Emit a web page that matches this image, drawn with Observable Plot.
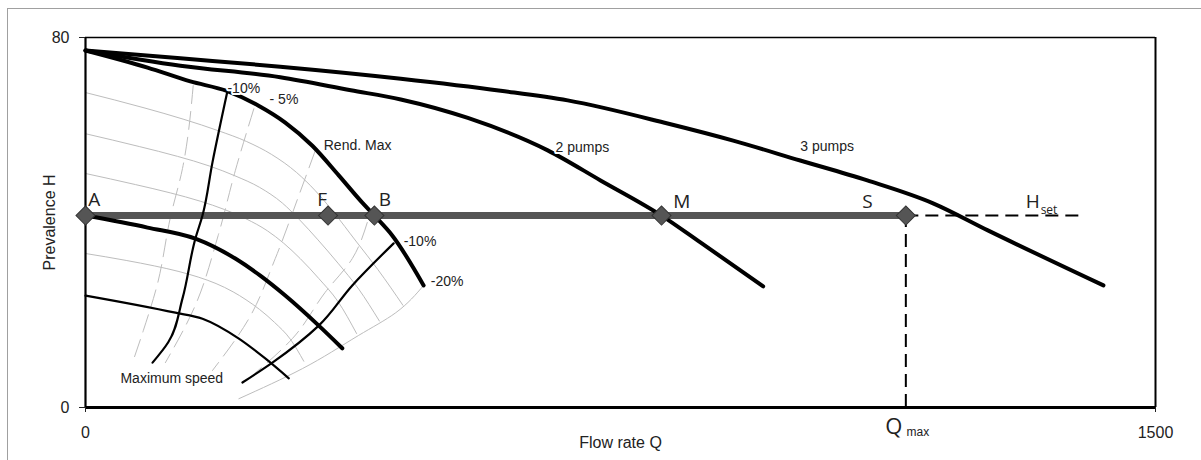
<!DOCTYPE html>
<html>
<head>
<meta charset="utf-8">
<script src="https://cdn.jsdelivr.net/npm/d3@7"></script>
<script src="https://cdn.jsdelivr.net/npm/@observablehq/plot@0.6"></script>
<style>
  html, body { margin: 0; padding: 0; background: #fff; }
  #wrap { position: relative; width: 1201px; height: 460px; overflow: hidden; }
  #frame { position: absolute; left: 7px; top: 8px; width: 1300px; height: 500px;
           border-left: 1px solid #a0a0a0; border-top: 1px solid #a0a0a0; pointer-events: none; z-index: 2; }
  #chart { position: absolute; left: 0; top: 0; }
</style>
</head>
<body>
<div id="wrap"><div id="frame"></div><div id="chart"></div></div>
<script>
// ---- axis ticks / reference values ----
const qTicks = [0, 1500];
const hTicks = [0, 80];
const hSet = 41.5;
const qMax = 1150;
const qSetEnd = 1400;

// ---- pump curves (Q, H) ----
const rendMaxQ = [0, 87, 147, 199, 242, 280, 318, 355, 388, 405, 430, 474];
const rendMaxH = [77.2, 73.5, 70.5, 68.4, 65.3, 61.6, 56.6, 50.2, 44.3, 41.5, 37.2, 26.4];

const twoPumpsQ = [0, 133, 273, 372, 442, 536, 648, 722, 807.5, 862, 950];
const twoPumpsH = [77.2, 73.9, 71.4, 68.6, 66.6, 62.6, 55.6, 49.1, 41.5, 35.7, 26.2];

const threePumpsQ = [0, 133, 273, 442, 582, 676, 816, 908, 1002, 1096, 1189, 1265, 1427];
const threePumpsH = [77.2, 75.5, 73.7, 71.1, 68.5, 66.4, 61.4, 57.7, 53.4, 49.1, 44.1, 38.3, 26.4];

const reducedQ = [0, 87, 154, 210, 245, 280, 327, 360];
const reducedH = [41.5, 38.9, 36.5, 32.2, 28.5, 24.2, 17.7, 12.8];

const lowQ = [0, 126, 164, 215, 252, 285];
const lowH = [24.2, 20.5, 19.2, 14.9, 10.6, 6.3];

// ---- efficiency lines (black) ----
const effLeftQ = [199, 178, 164, 154, 136, 116, 94];
const effLeftH = [68.4, 53.0, 41.5, 36.5, 23.6, 14.1, 9.7];
const effRightQ = [432, 374, 327, 262, 220];
const effRightH = [35.5, 26.4, 17.7, 9.7, 5.4];

// ---- grey grid: speed arcs, boundary, dashed iso-efficiency ----
const boundaryQ = [474, 435, 383, 304, 215];
const boundaryH = [26.4, 20.5, 15.6, 8.4, 1.9];

const arc1Q = [0, 82, 138, 187, 226, 261, 296, 322, 348, 379, 410, 445];
const arc1H = [68.1, 64.8, 62.3, 59.8, 57.5, 54.7, 50.8, 46.9, 42.2, 36.0, 29.8, 22.1];
const arc2Q = [0, 76, 129, 174, 211, 244, 276, 300, 325, 354, 383, 412];
const arc2H = [59.2, 56.4, 54.3, 52.2, 50.0, 47.6, 44.2, 40.6, 36.4, 31.2, 25.6, 18.7];
const arc3Q = [0, 70, 119, 161, 195, 225, 255, 278, 301, 327, 354, 380];
const arc3H = [50.6, 48.2, 46.4, 44.6, 42.8, 40.8, 38.2, 35.5, 32.2, 27.9, 22.9, 16.0];
const arc4Q = [0, 57, 97, 131, 158, 183, 207, 225, 244, 265, 287, 306];
const arc4H = [33.3, 31.8, 30.6, 29.4, 28.2, 26.8, 25.0, 23.3, 21.2, 18.4, 14.8, 10.0];

const dash1Q = [151, 136, 119, 101, 81, 67];
const dash1H = [69.6, 51.7, 41.1, 26.8, 16.6, 10.2];
const dash2Q = [236, 210, 186, 154, 112];
const dash2H = [64.6, 51.2, 37.2, 22.1, 9.7];
const dash3Q = [322, 299, 266, 229, 178];
const dash3H = [55.5, 45.8, 32.2, 19.2, 8.0];
const dash4Q = [395, 374, 336, 290, 229];
const dash4H = [40.0, 32.2, 24.9, 14.9, 6.3];

// ---- operating points ----
const pointNames = ["A", "F", "B", "M", "S"];
const pointQ = [0, 340, 405, 807.5, 1150];

// ---- annotations ----
const noteText = ["-10%", "- 5%", "Rend. Max", "2 pumps", "3 pumps", "-10%", "-20%", "Maximum speed"];
const noteQ = [199, 258, 334, 659, 1002, 446, 484, 49];
const noteH = [68.9, 66.6, 56.6, 56.2, 56.4, 35.9, 27.2, 6.3];

const letterQ = [4, 325, 411, 824, 1089];
const letterH = [44.8, 44.8, 44.8, 44.4, 44.4];

const pts = (qs, hs) => qs.map((q, i) => ({q, h: hs[i]}));

const thick = {x: "q", y: "h", stroke: "#000", strokeWidth: 4, curve: "monotone-x", strokeLinecap: "round", strokeLinejoin: "round"};
const thinX = {x: "q", y: "h", stroke: "#000", strokeWidth: 2.2, curve: "monotone-x", strokeLinecap: "round"};
const thinY = {x: "q", y: "h", stroke: "#000", strokeWidth: 2.2, curve: "monotone-y", strokeLinecap: "round"};
const grey = {x: "q", y: "h", stroke: "#bdbdbd", strokeWidth: 1, curve: "monotone-x"};
const greyDash = {x: "q", y: "h", stroke: "#bdbdbd", strokeWidth: 1, strokeDasharray: "18,8", curve: "monotone-y"};
const fmt = d => String(d);
const annFont = "'Liberation Sans', Arial, sans-serif";
const letterFont = "'Open Sans', 'DejaVu Sans', sans-serif";

const chart = Plot.plot({
  width: 1201,
  height: 460,
  marginLeft: 85,
  marginRight: 46,
  marginTop: 37,
  marginBottom: 53,
  x: {domain: [0, 1500]},
  y: {domain: [0, 80]},
  style: {fontFamily: annFont, fontSize: "16px", color: "#222", background: "white"},
  marks: [
    // grey grid
    Plot.line(pts(arc1Q, arc1H), grey),
    Plot.line(pts(arc2Q, arc2H), grey),
    Plot.line(pts(arc3Q, arc3H), grey),
    Plot.line(pts(arc4Q, arc4H), grey),
    Plot.line(pts(boundaryQ, boundaryH), {...grey, curve: "monotone-y"}),
    Plot.line(pts(dash1Q, dash1H), greyDash),
    Plot.line(pts(dash2Q, dash2H), greyDash),
    Plot.line(pts(dash3Q, dash3H), greyDash),
    Plot.line(pts(dash4Q, dash4H), greyDash),
    // frame / axes lines
    Plot.ruleY([80], {stroke: "#000", strokeWidth: 1.5}),
    Plot.ruleX([1500], {stroke: "#000", strokeWidth: 2}),
    Plot.ruleX([0], {stroke: "#000", strokeWidth: 2.2}),
    Plot.ruleY([0], {stroke: "#000", strokeWidth: 2.8}),
    Plot.axisX({ticks: qTicks, tickSize: 5, tickPadding: 14, tickFormat: fmt, fontSize: 16,
      label: "Flow rate Q", labelAnchor: "center", labelOffset: 40, labelArrow: "none"}),
    Plot.axisY({ticks: hTicks, tickSize: 6, tickPadding: 10, tickFormat: fmt, fontSize: 16,
      label: "Prevalence H", labelAnchor: "center", labelOffset: 42, labelArrow: "none"}),
    // Hset band + dashed extension + Qmax dashed
    Plot.ruleY([hSet], {x1: 0, x2: qMax, stroke: "#555", strokeWidth: 7}),
    Plot.ruleY([hSet], {x1: qMax, x2: qSetEnd, stroke: "#000", strokeWidth: 2, strokeDasharray: "13,7"}),
    Plot.ruleX([qMax], {y1: 0, y2: hSet, stroke: "#000", strokeWidth: 2, strokeDasharray: "13,7"}),
    // black efficiency lines
    Plot.line(pts(effLeftQ, effLeftH), thinY),
    Plot.line(pts(effRightQ, effRightH), thinY),
    Plot.line(pts(lowQ, lowH), thinX),
    // pump curves
    Plot.line(pts(reducedQ, reducedH), thick),
    Plot.line(pts(rendMaxQ, rendMaxH), thick),
    Plot.line(pts(twoPumpsQ, twoPumpsH), thick),
    Plot.line(pts(threePumpsQ, threePumpsH), thick),
    // operating points
    Plot.dot(pointQ.map(q => ({q, h: hSet})), {x: "q", y: "h", symbol: "square", rotate: 45, r: 7.6, fill: "#555", stroke: "#333", strokeWidth: 1}),
    // annotations
    Plot.text(noteText.map((t, i) => ({t, q: noteQ[i], h: noteH[i]})), {x: "q", y: "h", text: "t", textAnchor: "start",
      fontSize: 14, fontFamily: annFont, fill: "#222", stroke: "white", strokeWidth: 4}),
    Plot.text(pointNames.map((t, i) => ({t, q: letterQ[i], h: letterH[i]})), {x: "q", y: "h", text: "t", textAnchor: "start",
      fontSize: 19, fontFamily: letterFont, fill: "#222"}),
    Plot.text([{t: "H", q: 1318, h: 44.4}], {x: "q", y: "h", text: "t", textAnchor: "start", fontSize: 19, fontFamily: letterFont, fill: "#222"}),
    Plot.text([{t: "set", q: 1339, h: 42.6}], {x: "q", y: "h", text: "t", textAnchor: "start", fontSize: 12, fontFamily: letterFont, fill: "#222"}),
    Plot.text([{t: "Q", q: 1121, h: -4.3}], {x: "q", y: "h", text: "t", textAnchor: "start", fontSize: 22, fontFamily: letterFont, fill: "#222"}),
    Plot.text([{t: "max", q: 1151, h: -5.4}], {x: "q", y: "h", text: "t", textAnchor: "start", fontSize: 12, fontFamily: annFont, fill: "#222"})
  ]
});
document.getElementById("chart").appendChild(chart);
</script>
</body>
</html>
